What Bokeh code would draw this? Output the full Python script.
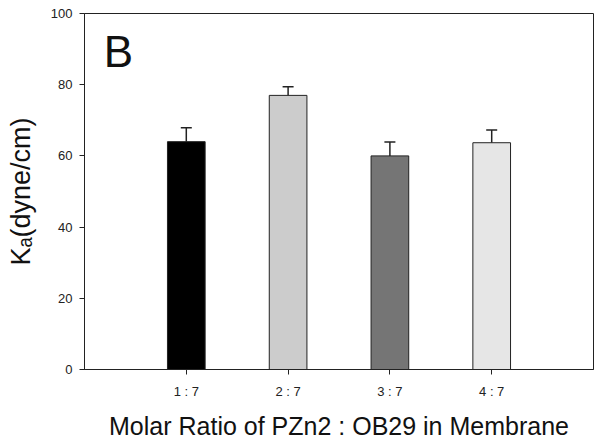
from bokeh.plotting import figure
from bokeh.models import FixedTicker, Whisker, TeeHead, ColumnDataSource, Label, Range1d
from bokeh.embed import file_html
from bokeh.resources import INLINE

categories = ["1 : 7", "2 : 7", "3 : 7", "4 : 7"]
values = [64.0, 77.0, 60.0, 63.7]
errors = [3.9, 2.4, 3.9, 3.6]
colors = ["#000000", "#cccccc", "#757575", "#e6e6e6"]
y_ticks = [0, 20, 40, 60, 80, 100]

xs = list(range(1, len(categories) + 1))
upper = [v + e for v, e in zip(values, errors)]
src = ColumnDataSource(dict(x=xs, top=values, upper=upper, color=colors))

FONT = "Liberation Sans"

p = figure(frame_width=509, frame_height=356, output_backend="svg", toolbar_location=None,
           x_range=Range1d(0, 5), y_range=Range1d(0, 100),
           min_border_left=84, min_border_top=13, min_border_right=8, min_border_bottom=71)
p.background_fill_color = "white"
p.border_fill_color = "white"
p.outline_line_color = "#222222"
p.outline_line_width = 1
p.xgrid.visible = False
p.ygrid.visible = False

p.vbar(x="x", top="top", bottom=0, width=0.37, fill_color="color", line_color="#222222",
       line_width=1, source=src)
p.add_layout(Whisker(base="x", lower="top", upper="upper", source=src, dimension="height",
                     line_color="#222222", line_width=1.5, lower_head=None,
                     upper_head=TeeHead(size=11, line_color="#222222", line_width=1.5)))

p.xaxis.ticker = FixedTicker(ticks=xs)
p.xaxis.major_label_overrides = {x: c for x, c in zip(xs, categories)}
p.yaxis.ticker = FixedTicker(ticks=y_ticks)
for ax in (p.xaxis, p.yaxis):
    ax.minor_tick_line_color = None
    ax.major_tick_out = 5
    ax.major_tick_in = 0
    ax.axis_line_color = "#222222"
    ax.major_tick_line_color = "#222222"
    ax.major_label_text_font = FONT
    ax.major_label_text_color = "#222222"
    ax.axis_label_text_font = FONT
    ax.axis_label_text_font_style = "normal"
    ax.axis_label_text_color = "#111111"

p.xaxis.major_label_text_font_size = "13px"
p.yaxis.major_label_text_font_size = "13px"
p.xaxis.major_label_standoff = 9
p.yaxis.major_label_standoff = 7
p.xaxis.axis_label = "Molar Ratio of PZn2 : OB29 in Membrane"
p.xaxis.axis_label_text_font_size = "25px"
p.xaxis.axis_label_standoff = 10
p.yaxis.axis_label = "K\u2090(dyne/cm)"
p.yaxis.axis_label_text_font_size = "27px"
p.yaxis.axis_label_standoff = 12

p.add_layout(Label(x=0.19, y=89.3, text="B", text_font=FONT, text_font_size="44px",
                   text_color="#111111", text_baseline="alphabetic"))

open("out.html", "w").write(file_html(p, INLINE))
